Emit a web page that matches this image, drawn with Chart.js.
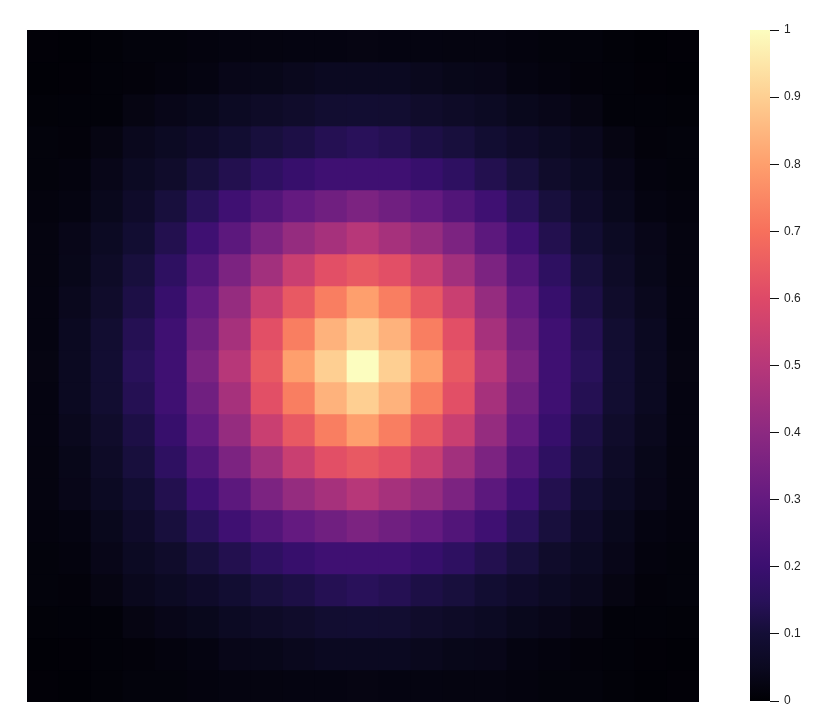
<!DOCTYPE html>
<html lang="en">
  <head>
    <meta charset="UTF-8" />
    <script src="https://cdn.jsdelivr.net/npm/chart.js@4.4.1/dist/chart.umd.min.js"></script>
    <title>Heatmap</title>
    <style>
      body {
        margin: 0;
        padding: 0;
        background: #fff;
      }
      #heat {
        position: absolute;
        left: 0;
        top: 0;
      }
      #bar {
        position: absolute;
        left: 740px;
        top: 0;
      }
    </style>
  </head>
  <body>
    <canvas id="heat" width="720" height="726"></canvas>
    <canvas id="bar" width="100" height="726"></canvas>
    <script>
      // column labels (x) and row labels (y), 21 x 21 grid
      const cols = ['0','1','2','3','4','5','6','7','8','9','10','11','12','13','14','15','16','17','18','19','20']
      const rows = ['0','1','2','3','4','5','6','7','8','9','10','11','12','13','14','15','16','17','18','19','20']

      // cell values, top row first
      const cells = [
        [0.008,0.006,0.009,0.014,0.014,0.018,0.022,0.022,0.024,0.024,0.025,0.024,0.024,0.022,0.022,0.018,0.014,0.014,0.009,0.006,0.008],
        [0.006,0.008,0.011,0.013,0.018,0.024,0.035,0.038,0.045,0.052,0.052,0.052,0.045,0.038,0.035,0.024,0.018,0.013,0.011,0.008,0.006],
        [0.009,0.011,0.010,0.025,0.035,0.042,0.057,0.065,0.075,0.088,0.090,0.088,0.075,0.065,0.057,0.042,0.035,0.025,0.010,0.011,0.009],
        [0.014,0.013,0.025,0.045,0.057,0.072,0.090,0.110,0.122,0.140,0.150,0.140,0.122,0.110,0.090,0.072,0.057,0.045,0.025,0.013,0.014],
        [0.014,0.018,0.035,0.057,0.075,0.110,0.135,0.165,0.190,0.210,0.210,0.210,0.190,0.165,0.135,0.110,0.075,0.057,0.035,0.018,0.014],
        [0.018,0.024,0.042,0.072,0.110,0.150,0.210,0.255,0.300,0.330,0.360,0.330,0.300,0.255,0.210,0.150,0.110,0.072,0.042,0.024,0.018],
        [0.022,0.035,0.057,0.090,0.135,0.210,0.280,0.360,0.420,0.460,0.500,0.460,0.420,0.360,0.280,0.210,0.135,0.090,0.057,0.035,0.022],
        [0.022,0.038,0.065,0.110,0.165,0.255,0.360,0.450,0.545,0.615,0.640,0.615,0.545,0.450,0.360,0.255,0.165,0.110,0.065,0.038,0.022],
        [0.024,0.045,0.075,0.122,0.190,0.300,0.420,0.545,0.640,0.730,0.800,0.730,0.640,0.545,0.420,0.300,0.190,0.122,0.075,0.045,0.024],
        [0.024,0.052,0.088,0.140,0.210,0.330,0.460,0.615,0.730,0.840,0.900,0.840,0.730,0.615,0.460,0.330,0.210,0.140,0.088,0.052,0.024],
        [0.025,0.052,0.090,0.150,0.210,0.360,0.500,0.640,0.800,0.900,1.000,0.900,0.800,0.640,0.500,0.360,0.210,0.150,0.090,0.052,0.025],
        [0.024,0.052,0.088,0.140,0.210,0.330,0.460,0.615,0.730,0.840,0.900,0.840,0.730,0.615,0.460,0.330,0.210,0.140,0.088,0.052,0.024],
        [0.024,0.045,0.075,0.122,0.190,0.300,0.420,0.545,0.640,0.730,0.800,0.730,0.640,0.545,0.420,0.300,0.190,0.122,0.075,0.045,0.024],
        [0.022,0.038,0.065,0.110,0.165,0.255,0.360,0.450,0.545,0.615,0.640,0.615,0.545,0.450,0.360,0.255,0.165,0.110,0.065,0.038,0.022],
        [0.022,0.035,0.057,0.090,0.135,0.210,0.280,0.360,0.420,0.460,0.500,0.460,0.420,0.360,0.280,0.210,0.135,0.090,0.057,0.035,0.022],
        [0.018,0.024,0.042,0.072,0.110,0.150,0.210,0.255,0.300,0.330,0.360,0.330,0.300,0.255,0.210,0.150,0.110,0.072,0.042,0.024,0.018],
        [0.014,0.018,0.035,0.057,0.075,0.110,0.135,0.165,0.190,0.210,0.210,0.210,0.190,0.165,0.135,0.110,0.075,0.057,0.035,0.018,0.014],
        [0.014,0.013,0.025,0.045,0.057,0.072,0.090,0.110,0.122,0.140,0.150,0.140,0.122,0.110,0.090,0.072,0.057,0.045,0.025,0.013,0.014],
        [0.009,0.011,0.010,0.025,0.035,0.042,0.057,0.065,0.075,0.088,0.090,0.088,0.075,0.065,0.057,0.042,0.035,0.025,0.010,0.011,0.009],
        [0.006,0.008,0.011,0.013,0.018,0.024,0.035,0.038,0.045,0.052,0.052,0.052,0.045,0.038,0.035,0.024,0.018,0.013,0.011,0.008,0.006],
        [0.008,0.006,0.009,0.014,0.014,0.018,0.022,0.022,0.024,0.024,0.025,0.024,0.024,0.022,0.022,0.018,0.014,0.014,0.009,0.006,0.008],
      ]

      // colour bar range and ticks
      const barMin = 0
      const barMax = 1
      const barStep = 0.1

      // magma colour map stops
      const magma = [
        [0.0, '#000004'], [0.05, '#0b0920'], [0.1, '#140e36'], [0.15, '#29115a'],
        [0.2, '#3b0f70'], [0.3, '#641a80'], [0.4, '#8c2981'], [0.5, '#b73779'],
        [0.6, '#de4968'], [0.7, '#f7705c'], [0.8, '#fe9f6d'], [0.9, '#fecf92'],
        [1.0, '#fcfdbf'],
      ]

      const hex = (h) => [1, 3, 5].map((i) => parseInt(h.slice(i, i + 2), 16))
      const colorFor = (v) => {
        const t = Math.max(0, Math.min(1, (v - barMin) / (barMax - barMin)))
        for (let i = 1; i < magma.length; i++) {
          if (t <= magma[i][0]) {
            const [t0, c0] = magma[i - 1]
            const [t1, c1] = magma[i]
            const f = (t - t0) / (t1 - t0)
            const a = hex(c0)
            const b = hex(c1)
            const c = a.map((x, k) => Math.round(x + (b[k] - x) * f))
            return 'rgb(' + c.join(',') + ')'
          }
        }
        return magma[magma.length - 1][1]
      }

      // one stacked dataset per row; reversed y puts row 0 at the top
      const datasets = rows.map((r, ri) => ({
        label: r,
        data: cols.map(() => 1),
        backgroundColor: cells[ri].map(colorFor),
        borderWidth: 0,
        barPercentage: 1,
        categoryPercentage: 1,
      }))

      new Chart(document.getElementById('heat'), {
        type: 'bar',
        data: { labels: cols, datasets },
        options: {
          responsive: false,
          animation: false,
          layout: { padding: { left: 27, top: 30, right: 21, bottom: 24 } },
          plugins: { legend: { display: false }, tooltip: { enabled: false } },
          scales: {
            x: { stacked: true, display: false },
            y: { stacked: true, display: false, reverse: true, min: 0, max: rows.length },
          },
        },
      })

      const gradientPlugin = {
        id: 'gradientBar',
        beforeDatasetsDraw(chart) {
          const { ctx, chartArea: a } = chart
          const g = ctx.createLinearGradient(0, a.bottom, 0, a.top)
          magma.forEach(([t, c]) => g.addColorStop(t, c))
          ctx.save()
          ctx.fillStyle = g
          ctx.fillRect(a.left, a.top, a.right - a.left, a.bottom - a.top)
          ctx.restore()
        },
      }

      new Chart(document.getElementById('bar'), {
        type: 'bar',
        data: { labels: [''], datasets: [] },
        plugins: [gradientPlugin],
        options: {
          responsive: false,
          animation: false,
          layout: { padding: { left: 10, top: 30, right: 30, bottom: 25 } },
          plugins: { legend: { display: false }, tooltip: { enabled: false } },
          scales: {
            x: { display: false },
            y: {
              position: 'right',
              min: barMin,
              max: barMax,
              afterFit: (s) => { s.width = 40 },
              border: { display: false },
              grid: { drawOnChartArea: false, drawTicks: true, tickLength: 9, color: '#111' },
              ticks: {
                stepSize: barStep,
                padding: 5,
                color: '#222',
                font: { family: 'Liberation Sans, Arial, sans-serif', size: 12 },
                callback: (v) => String(Math.round(v * 10) / 10),
              },
            },
          },
        },
      })
    </script>
  </body>
</html>
